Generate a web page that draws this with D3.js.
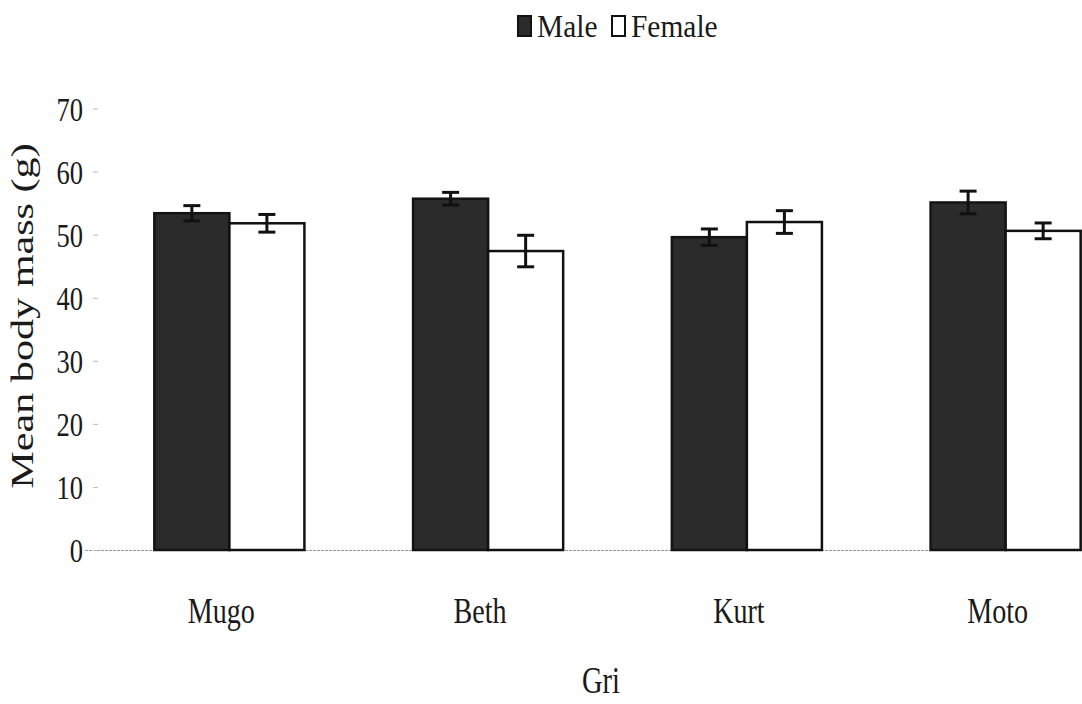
<!DOCTYPE html>
<html>
<head>
<meta charset="utf-8">
<script src="https://cdn.jsdelivr.net/npm/d3@7"></script>
<style>
  html, body { margin: 0; padding: 0; background: #fff; }
  svg { display: block; }
</style>
</head>
<body>
<svg id="chart" width="1082" height="704"></svg>
<script>
// ---- data ----
const categories = ["Mugo", "Beth", "Kurt", "Moto"];
const seriesNames = ["Male", "Female"];
const maleMeans   = [53.4, 55.7, 49.6, 55.1];
const maleErrors  = [1.2, 1.0, 1.3, 1.8];
const femaleMeans = [51.8, 47.4, 52.0, 50.6];
const femaleErrors= [1.4, 2.5, 1.8, 1.25];
const yTicks = [0, 10, 20, 30, 40, 50, 60, 70];
const xTitle = "Gri";
const yTitle = "Mean body mass (g)";

// ---- layout ----
const W = 1082, H = 704;
const FONT = "'Liberation Serif', 'Times New Roman', Times, serif";
const baseY = 550, topY = 108.5;
const svg = d3.select("#chart").attr("font-family", FONT);

const x0 = d3.scaleBand().domain(categories).range([100, 1135]).paddingInner(0.42).paddingOuter(0.21);
const x1 = d3.scaleBand().domain(seriesNames).range([0, x0.bandwidth()]);
const y = d3.scaleLinear().domain([0, 70]).range([baseY, topY]);

const colors = { Male: "#2b2b2b", Female: "#ffffff" };
const strokes = { Male: "#141414", Female: "#111111" };

const rows = categories.map((c, i) => ({
  cat: c,
  vals: [
    { s: "Male", v: maleMeans[i], e: maleErrors[i] },
    { s: "Female", v: femaleMeans[i], e: femaleErrors[i] }
  ]
}));

// baseline (faint dotted)
svg.append("line")
  .attr("x1", 85).attr("x2", W)
  .attr("y1", y(0) + 0.5).attr("y2", y(0) + 0.5)
  .attr("stroke", "#9a9a9a").attr("stroke-width", 1.2)
  .attr("stroke-dasharray", "3,1");

// y axis
const yAxis = svg.append("g")
  .attr("transform", "translate(98,0)")
  .call(d3.axisLeft(y).tickValues(yTicks).tickSize(5).tickPadding(10).tickFormat(d3.format("d")));
yAxis.attr("font-family", FONT);
yAxis.select(".domain").remove();
yAxis.selectAll(".tick line").attr("stroke", "#bbbbbb").attr("stroke-width", 1);
yAxis.selectAll(".tick text")
  .attr("font-family", FONT)
  .attr("font-size", 34)
  .attr("fill", "#1a1a1a")
  .attr("dy", "0.34em")
  .attr("transform", "scale(0.78,1)")
  .attr("x", -15 / 0.78);

// bars
const groups = svg.append("g").selectAll("g").data(rows).join("g")
  .attr("transform", d => `translate(${x0(d.cat)},0)`);

groups.selectAll("rect").data(d => d.vals).join("rect")
  .attr("x", d => x1(d.s))
  .attr("y", d => y(d.v))
  .attr("width", x1.bandwidth())
  .attr("height", d => y(0) - y(d.v))
  .attr("fill", d => colors[d.s])
  .attr("stroke", d => strokes[d.s])
  .attr("stroke-width", 2.5);

// error bars
const capW = 17;
const eb = groups.selectAll("g.err").data(d => d.vals).join("g").attr("class", "err")
  .attr("stroke", "#111").attr("stroke-width", 3);
eb.append("line")
  .attr("x1", d => x1(d.s) + x1.bandwidth() / 2)
  .attr("x2", d => x1(d.s) + x1.bandwidth() / 2)
  .attr("y1", d => y(d.v + d.e)).attr("y2", d => y(d.v - d.e));
eb.append("line")
  .attr("x1", d => x1(d.s) + x1.bandwidth() / 2 - capW / 2)
  .attr("x2", d => x1(d.s) + x1.bandwidth() / 2 + capW / 2)
  .attr("y1", d => y(d.v + d.e)).attr("y2", d => y(d.v + d.e));
eb.append("line")
  .attr("x1", d => x1(d.s) + x1.bandwidth() / 2 - capW / 2)
  .attr("x2", d => x1(d.s) + x1.bandwidth() / 2 + capW / 2)
  .attr("y1", d => y(d.v - d.e)).attr("y2", d => y(d.v - d.e));

// category labels
const xAxis = svg.append("g")
  .attr("transform", `translate(-8,${baseY})`)
  .call(d3.axisBottom(x0).tickSize(0).tickPadding(0));
xAxis.attr("font-family", FONT);
xAxis.select(".domain").remove();
xAxis.selectAll(".tick text")
  .attr("font-family", FONT)
  .attr("font-size", 36)
  .attr("fill", "#1a1a1a")
  .attr("dy", 0)
  .attr("y", 0)
  .attr("transform", "translate(0,73) scale(0.78,1)");

// x title
svg.append("text")
  .attr("transform", "translate(601,693) scale(0.75,1)")
  .attr("text-anchor", "middle")
  .attr("font-family", FONT)
  .attr("font-size", 38)
  .attr("fill", "#1a1a1a")
  .text(xTitle);

// y title
svg.append("text")
  .attr("transform", "translate(33,316) rotate(-90) scale(1.36,1)")
  .attr("text-anchor", "middle")
  .attr("font-family", FONT)
  .attr("font-size", 31)
  .attr("fill", "#1a1a1a")
  .text(yTitle);

// legend
const legend = svg.append("g");
const legendItems = [
  { s: seriesNames[0], bx: 518, tx: 537 },
  { s: seriesNames[1], bx: 612, tx: 631 }
];
legendItems.forEach(it => {
  legend.append("rect")
    .attr("x", it.bx).attr("y", 16).attr("width", 13).attr("height", 20)
    .attr("fill", colors[it.s]).attr("stroke", "#111").attr("stroke-width", 2);
  legend.append("text")
    .attr("transform", `translate(${it.tx},37) scale(0.92,1)`)
    .attr("font-family", FONT)
    .attr("font-size", 32)
    .attr("fill", "#1a1a1a")
    .text(it.s);
});
</script>
</body>
</html>
